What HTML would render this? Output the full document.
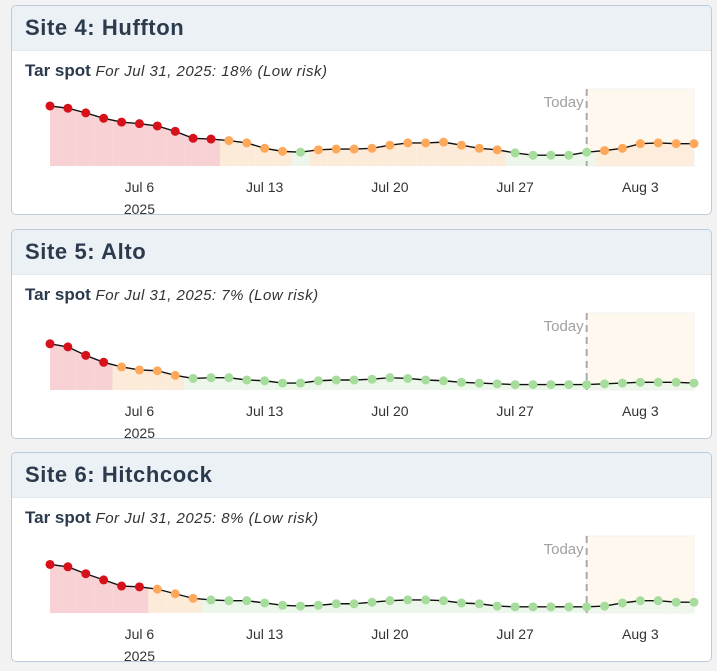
<!DOCTYPE html>
<html><head><meta charset="utf-8">
<style>
body{margin:0;background:#f2f2f2;font-family:"Liberation Sans",sans-serif;width:717px;height:671px;overflow:hidden;position:relative}
.panel{position:absolute;left:11px;width:699px;height:208px;background:#fff;border:1px solid #bccbdc;border-radius:5px;overflow:hidden}
.hdr{height:45px;background:#ecf1f6;border-bottom:1px solid #e3e8ee;box-sizing:border-box;padding:9px 0 0 13px;font-size:22px;letter-spacing:0.6px;font-weight:bold;color:#2b3a4c}
.sub{position:absolute;left:13px;top:55px;font-size:17px;font-weight:bold;color:#2b3a4c}
.sub i{font-weight:normal;font-size:15px;letter-spacing:0.5px;color:#333}
svg{position:absolute;left:0;top:0}
</style></head><body>
<div class="panel" style="top:5px"><div class="hdr">Site 4: Huffton</div><div class="sub">Tar spot <i>For Jul 31, 2025: 18% (Low risk)</i></div><svg id="c0" width="699" height="208"></svg></div>
<div class="panel" style="top:229px"><div class="hdr">Site 5: Alto</div><div class="sub">Tar spot <i>For Jul 31, 2025: 7% (Low risk)</i></div><svg id="c1" width="699" height="208"></svg></div>
<div class="panel" style="top:452px"><div class="hdr">Site 6: Hitchcock</div><div class="sub">Tar spot <i>For Jul 31, 2025: 8% (Low risk)</i></div><svg id="c2" width="699" height="208"></svg></div>
<script>
const days = 37; // Jul 1 .. Aug 6
const todayIndex = 30;
const tickIndex = [5, 12, 19, 26, 33];
const tickLabels = ["Jul 6", "Jul 13", "Jul 20", "Jul 27", "Aug 3"];
const site4 = [78,75,69,62,57,55,52,45,36,35,33,30,23,19,18,21,22,22,23,27,30,30,31,27,23,21,17,14,14,14,18,20,23,29,30,29,29];
const site5 = [60,56,45,36,30,26,25,19,15,16,16,13,12,9,9,12,13,13,14,16,15,13,12,10,9,8,7,7,7,7,7,8,9,10,10,10,9];
const site6 = [63,60,51,43,35,34,31,25,19,17,16,16,13,10,9,10,12,12,14,16,17,17,16,13,12,9,8,8,8,8,8,9,13,16,16,14,14];
const series = [site4, site5, site6];
const NS = "http://www.w3.org/2000/svg";
const X0 = 38, X1 = 682, YB = 160, YT = 83;
const xs = i => X0 + (X1 - X0) * i / (days - 1);
const ys = v => YB - (YB - YT) * v / 100;
const risk = v => v >= 34 ? 2 : (v >= 19 ? 1 : 0);
const shade = ["#ecf6ea", "#fdebd9", "#f7d1d3"];
const dot = ["#a6dc9c", "#fda85a", "#d7101a"];
function mk(svg, tag, attrs) { const e = document.createElementNS(NS, tag); for (const k in attrs) e.setAttribute(k, attrs[k]); svg.appendChild(e); return e; }
series.forEach((vals, s) => {
  const svg = document.getElementById("c" + s);
  const fr = mk(svg, "rect", {x: xs(todayIndex), y: YT, width: X1 - xs(todayIndex), height: YB - YT, fill: "#fff8ef", stroke: "#f1f1f1"});
  
  
  const step = xs(1) - xs(0);
  const yAt = x => { const f = (x - X0) / step; const i = Math.max(0, Math.min(days - 2, Math.floor(f))); const t = f - i; return ys(vals[i] + (vals[i + 1] - vals[i]) * t); };
  vals.forEach((v, i) => {
    const a = Math.max(X0, xs(i) - step / 2), b = Math.min(X1, xs(i) + step / 2);
    let pts = [[a, YB]];
    const n = 6; for (let k = 0; k <= n; k++) { const x = a + (b - a) * k / n; pts.push([x, yAt(x)]); }
    pts.push([b, YB]);
    const p = mk(svg, "polygon", {points: pts.map(q => q.join(",")).join(" "), fill: shade[risk(v)], opacity: i >= todayIndex ? 0.85 : 1});
    
    
  });
  const tl = mk(svg, "line", {x1: xs(todayIndex), x2: xs(todayIndex), y1: YT, y2: YB, stroke: "#aaa", "stroke-width": 2, "stroke-dasharray": "7,5"});
  
  
  const tt = mk(svg, "text", {x: xs(todayIndex) - 3, y: YT + 18, "text-anchor": "end", fill: "#a0a0a0", "font-size": 15});
  tt.textContent = "Today";
  
  
  const ln = mk(svg, "polyline", {points: vals.map((v, i) => xs(i) + "," + ys(v)).join(" "), fill: "none", stroke: "#111", "stroke-width": 1.4});
  
  
  vals.forEach((v, i) => {
    const c = mk(svg, "circle", {cx: xs(i), cy: ys(v), r: 4.5, fill: dot[risk(v)]});
    
    
  });
  tickIndex.forEach((ti, k) => {
    const t = mk(svg, "text", {x: xs(ti), y: YB + 26, "text-anchor": "middle", fill: "#333", "font-size": 14});
    t.textContent = tickLabels[k];
    
    
  });
  const yr = mk(svg, "text", {x: xs(tickIndex[0]), y: YB + 48, "text-anchor": "middle", fill: "#333", "font-size": 14});
  yr.textContent = "2025";
  
  
});
</script>
</body></html>
